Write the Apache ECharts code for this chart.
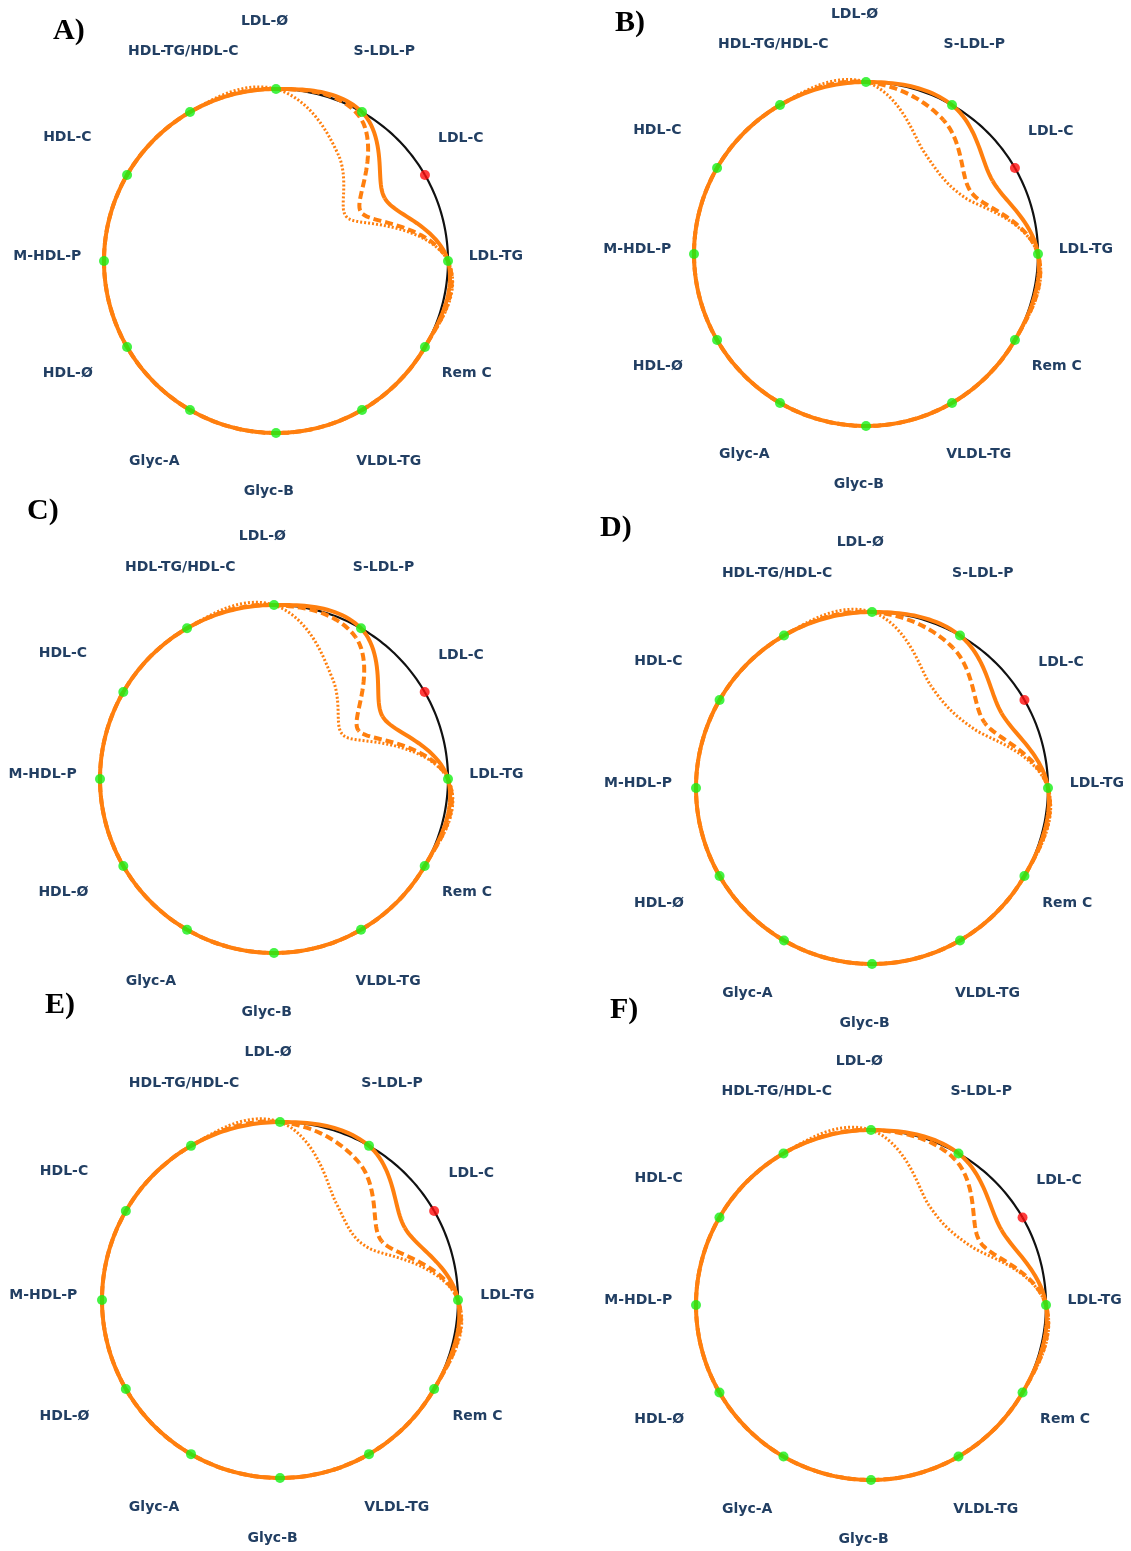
<!DOCTYPE html>
<html>
<head>
<meta charset="utf-8">
<script src="https://cdn.jsdelivr.net/npm/echarts@6/dist/echarts.min.js"></script>
<style>
  html, body { margin: 0; padding: 0; background: #ffffff; }
  #chart { width: 1131px; height: 1551px; }
</style>
</head>
<body>
<div id="chart"></div>
<script>
// Spokes, clockwise from the top
const AXES = ['LDL-Ø', 'S-LDL-P', 'LDL-C', 'LDL-TG', 'Rem C', 'VLDL-TG',
              'Glyc-B', 'Glyc-A', 'HDL-Ø', 'M-HDL-P', 'HDL-C', 'HDL-TG/HDL-C'];
// Reference profile (black circle) and the spokes flagged in red
const BASELINE = [1, 1, 1, 1, 1, 1, 1, 1, 1, 1, 1, 1];
const SIGNIFICANT = ['LDL-C'];
const PANEL_TITLES = ['A)', 'B)', 'C)', 'D)', 'E)', 'F)'];

// Relative values per panel: solid, dashed and dotted profiles
const SOLID_A  = [1, 1.00, 0.73, 1, 1, 1, 1, 1, 1, 1, 1, 1];
const DASHED_A = [1, 0.97, 0.57, 1, 1, 1, 1, 1, 1, 1, 1, 1];
const DOTTED_A = [1, 0.72, 0.49, 1, 1, 1, 1, 1, 1, 1, 1, 1];

const SOLID_B  = [1, 1.00, 0.85, 1, 1, 1, 1, 1, 1, 1, 1, 1];
const DASHED_B = [1, 0.90, 0.71, 1, 1, 1, 1, 1, 1, 1, 1, 1];
const DOTTED_B = [1, 0.68, 0.66, 1, 1, 1, 1, 1, 1, 1, 1, 1];

const SOLID_C  = [1, 1.00, 0.72, 1, 1, 1, 1, 1, 1, 1, 1, 1];
const DASHED_C = [1, 0.94, 0.56, 1, 1, 1, 1, 1, 1, 1, 1, 1];
const DOTTED_C = [1, 0.67, 0.48, 1, 1, 1, 1, 1, 1, 1, 1, 1];

const SOLID_D  = [1, 1.00, 0.85, 1, 1, 1, 1, 1, 1, 1, 1, 1];
const DASHED_D = [1, 0.92, 0.74, 1, 1, 1, 1, 1, 1, 1, 1, 1];
const DOTTED_D = [1, 0.67, 0.67, 1, 1, 1, 1, 1, 1, 1, 1, 1];

const SOLID_E  = [1, 1.00, 0.81, 1, 1, 1, 1, 1, 1, 1, 1, 1];
const DASHED_E = [1, 0.89, 0.66, 1, 1, 1, 1, 1, 1, 1, 1, 1];
const DOTTED_E = [1, 0.63, 0.58, 1, 1, 1, 1, 1, 1, 1, 1, 1];

const SOLID_F  = [1, 1.00, 0.86, 1, 1, 1, 1, 1, 1, 1, 1, 1];
const DASHED_F = [1, 0.96, 0.72, 1, 1, 1, 1, 1, 1, 1, 1, 1];
const DOTTED_F = [1, 0.66, 0.665, 1, 1, 1, 1, 1, 1, 1, 1, 1];

const PANELS = [
  [SOLID_A, DASHED_A, DOTTED_A],
  [SOLID_B, DASHED_B, DOTTED_B],
  [SOLID_C, DASHED_C, DOTTED_C],
  [SOLID_D, DASHED_D, DOTTED_D],
  [SOLID_E, DASHED_E, DOTTED_E],
  [SOLID_F, DASHED_F, DOTTED_F]
];

// ---- layout and styling ----
const STEP = 360 / AXES.length;
const LAYOUT = [
  { center: [276, 261],  r: 172, title: [53, 16] },
  { center: [866, 254],  r: 172, title: [615, 8] },
  { center: [274, 779],  r: 174, title: [27, 496] },
  { center: [872, 788],  r: 176, title: [600, 513] },
  { center: [280, 1300], r: 178, title: [45, 990] },
  { center: [871, 1305], r: 175, title: [610, 995] }
];
// Label centres relative to the polar centre, for a 172px radius
const LABEL_OFFSET = [
  [-11.5, -239.6], [108.3, -209.6], [184.8, -122.6], [219.8, -4.6],
  [190.8, 112.4], [112.8, 200.4], [-7.2, 230.4], [-121.7, 200.4],
  [-208.2, 112.4], [-228.7, -4.6], [-208.7, -124.0], [-92.7, -209.6]
];
const LABEL_FONT = {
  fontFamily: 'DejaVu Sans', fontWeight: 'bold', fontSize: 14,
  lineHeight: 14, color: '#223f63'
};
const ORANGE = '#ff7f0e';
const LINE_STYLES = [
  { stroke: ORANGE, lineWidth: 4, lineDash: null },
  { stroke: ORANGE, lineWidth: 4, lineDash: [8, 4] },
  { stroke: ORANGE, lineWidth: 3, lineDash: [2, 2] }
];
const REF_STYLE = { stroke: '#111111', lineWidth: 2.2, lineDash: null };

// Anchor every label near the centre (so ECharts centres it) and push it
// out to its place with rich-text padding.
function labelRich(r) {
  const k = r / 172;
  const anchor = 0.25 * r;
  const rich = {};
  AXES.forEach((name, i) => {
    const th = i * STEP * Math.PI / 180;
    const px = anchor * Math.sin(th);
    const py = -anchor * Math.cos(th);
    const dx = LABEL_OFFSET[i][0] * k - px;
    const dy = LABEL_OFFSET[i][1] * k - py;
    rich['t' + i] = Object.assign({}, LABEL_FONT, {
      padding: [Math.max(0, 2 * dy), Math.max(0, -2 * dx),
                Math.max(0, -2 * dy), Math.max(0, 2 * dx)]
    });
  });
  return rich;
}

// Smooth closed curve: Catmull-Rom in (angle, value) space, mapped through
// the polar axes segment by segment.
function curveSegments(values, api) {
  const n = values.length, SUB = 24;
  const segs = [];
  for (let i = 0; i < n; i++) {
    const p0 = values[(i - 1 + n) % n], p1 = values[i];
    const p2 = values[(i + 1) % n], p3 = values[(i + 2) % n];
    const m1 = (p2 - p0) / 2, m2 = (p3 - p1) / 2;
    const pts = [];
    for (let s = 0; s <= SUB; s++) {
      const t = s / SUB, t2 = t * t, t3 = t2 * t;
      const v = (2 * t3 - 3 * t2 + 1) * p1 + (t3 - 2 * t2 + t) * m1 +
                (-2 * t3 + 3 * t2) * p2 + (t3 - t2) * m2;
      const c = api.coord([v, (i + t) * STEP]);
      pts.push([c[0], c[1]]);
    }
    segs.push(pts);
  }
  return segs;
}
function polyLength(pts) {
  let L = 0;
  for (let j = 1; j < pts.length; j++) {
    L += Math.hypot(pts[j][0] - pts[j - 1][0], pts[j][1] - pts[j - 1][1]);
  }
  return L;
}
function profileSeries(values, polarIndex, style, z) {
  return {
    type: 'custom',
    coordinateSystem: 'polar',
    polarIndex: polarIndex,
    silent: true,
    z: z,
    data: values.map((v, j) => [v, j * STEP]),
    renderItem: function (params, api) {
      const segs = curveSegments(values, api);
      const i = params.dataIndex;
      let offset = 0;
      for (let k = 0; k < i; k++) offset += polyLength(segs[k]);
      return {
        type: 'polyline',
        shape: { points: segs[i] },
        style: {
          stroke: style.stroke,
          lineWidth: style.lineWidth,
          lineDash: style.lineDash,
          lineDashOffset: offset,
          fill: null
        }
      };
    }
  };
}

const polar = [], angleAxis = [], radiusAxis = [], series = [], title = [];
LAYOUT.forEach((lay, p) => {
  polar.push({ center: lay.center, radius: [0, lay.r] });
  angleAxis.push({
    polarIndex: p,
    type: 'value',
    min: 0, max: 360, interval: STEP,
    startAngle: 90, clockwise: true,
    axisLine: { show: false },
    axisTick: { show: false },
    splitLine: { show: false },
    axisLabel: {
      margin: -0.75 * lay.r,
      formatter: function (v) {
        const i = Math.round(v / STEP);
        return (i >= 0 && i < AXES.length && Math.abs(v - i * STEP) < 1e-6)
          ? '{t' + i + '|' + AXES[i] + '}' : '';
      },
      rich: labelRich(lay.r)
    }
  });
  radiusAxis.push({ polarIndex: p, type: 'value', min: 0, max: 1, show: false });
  title.push({
    text: PANEL_TITLES[p], left: lay.title[0], top: lay.title[1], padding: 0,
    textStyle: { fontFamily: 'Liberation Serif', fontWeight: 'bold', fontSize: 30, color: '#000000' }
  });

  series.push(profileSeries(BASELINE, p, REF_STYLE, 2));
  const [solid, dashed, dotted] = PANELS[p];
  series.push(profileSeries(dotted, p, LINE_STYLES[2], 3));
  series.push(profileSeries(dashed, p, LINE_STYLES[1], 4));
  series.push(profileSeries(solid, p, LINE_STYLES[0], 5));
  series.push({
    type: 'scatter',
    coordinateSystem: 'polar',
    polarIndex: p,
    silent: true,
    z: 6,
    symbol: 'circle',
    symbolSize: 10,
    data: BASELINE.map((v, j) => ({
      value: [v, j * STEP],
      itemStyle: { color: SIGNIFICANT.includes(AXES[j]) ? '#ff0d0d' : '#14f014' }
    }))
  });
});

const chart = echarts.init(document.getElementById('chart'), null, { renderer: 'canvas' });
chart.setOption({
  animation: false,
  backgroundColor: '#ffffff',
  title: title,
  polar: polar,
  angleAxis: angleAxis,
  radiusAxis: radiusAxis,
  series: series
});
</script>
</body>
</html>
